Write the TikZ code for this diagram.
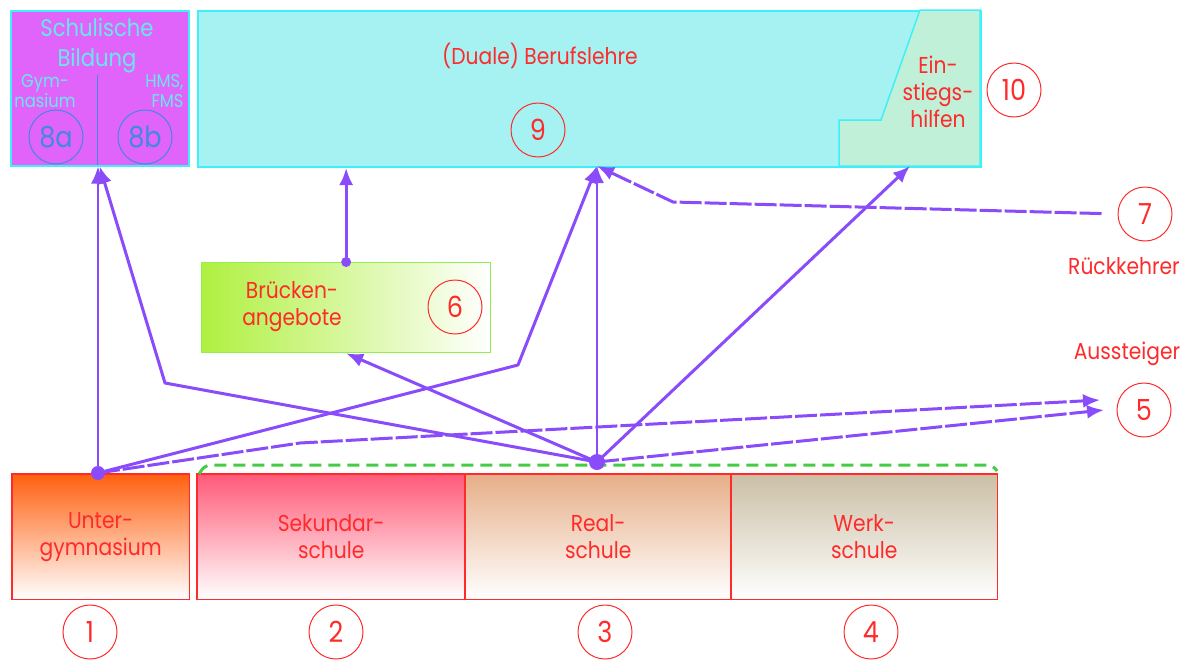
\documentclass[tikz,border=0pt]{standalone}
\usepackage{fontspec}
\setmainfont{Poppins}[FakeStretch=0.88]
\usetikzlibrary{arrows.meta}
\definecolor{rot}{HTML}{FF2A2A}
\definecolor{lila}{HTML}{8A4BFA}
\definecolor{tuerkis}{HTML}{40F0F8}
\definecolor{tuerkistext}{HTML}{66E8F0}
\definecolor{hellblau}{HTML}{A6F2F2}
\definecolor{mint}{HTML}{C0F0D8}
\definecolor{violett}{HTML}{E064FA}
\definecolor{blau}{HTML}{4088E0}
\definecolor{gruen}{HTML}{44CC44}
\definecolor{limette}{HTML}{B0F040}
\definecolor{limrand}{HTML}{90F050}
\definecolor{orangeug}{HTML}{FF6010}
\definecolor{rosa}{HTML}{FF5A78}
\definecolor{hautfarbe}{HTML}{E6AE88}
\definecolor{khaki}{HTML}{CBBFA5}
\tikzset{
  txt/.style={text=rot,align=center,font=\fontsize{23}{27}\selectfont},
  nr/.style={circle,draw=rot,line width=1pt,text=rot,minimum size=54pt,inner sep=0pt,
    font=\fontsize{29}{29}\selectfont},
  stufe/.style={anchor=north west,minimum width=#1,minimum height=125pt,inner sep=0pt,txt},
  rand/.style={draw=rot,line width=1.8pt},
  pfeil/.style={lila,line width=3pt,line join=round,-{Latex[length=17pt,width=14pt]}},
  duenn/.style={pfeil,line width=2pt},
  aus/.style={pfeil,dash pattern=on 22pt off 3pt},
}
\begin{document}
\begin{tikzpicture}[x=1pt,y=-1pt]
\useasboundingbox (0,0) rectangle (1192,659);
% obere Stufe
\node[draw=tuerkis,line width=1.5pt,fill=violett,anchor=north west,minimum width=178pt,
  minimum height=155pt,inner sep=0pt] (schul) at (10,10) {};
\draw[blau,line width=1pt] (97,75) -- (97,165);
\node[text=tuerkistext,align=center,font=\fontsize{24}{30}\selectfont] (schultxt) at (97,46) {Schulische\\Bildung};
\node[text=tuerkistext,align=center,font=\fontsize{18.5}{20}\selectfont] (gym) at (45,91) {Gym-\\nasium};
\node[text=tuerkistext,align=right,anchor=east,font=\fontsize{18.5}{20}\selectfont] (hms) at (187,91) {HMS,\\FMS};
\node[nr,draw=blau,text=blau] (n8a) at (56,137) {8a};
\node[nr,draw=blau,text=blau] (n8b) at (145,137) {8b};
\node[draw=tuerkis,line width=2pt,fill=hellblau,anchor=north west,minimum width=783pt,
  minimum height=156pt,inner sep=0pt] (duale) at (197,10) {};
\draw[tuerkis,fill=mint,line width=1.5pt] (920,10) -- (881,120) -- (839,120) -- (839,166)
  -- (980,166) -- (980,10) -- cycle;
\node[txt] (dualetxt) at (540,56) {(Duale) Berufslehre};
\node[nr] (n9) at (538,130) {9};
\node[txt,align=center] (einsttxt) at (938,92) {Ein-\\stiegs-\\hilfen};
\node[nr] (n10) at (1014,90) {10};
\coordinate (einst) at (910,166);
\coordinate (ziel9) at (597,166);
% Brueckenangebote
\node[draw=limrand,line width=1.3pt,left color=limette,right color=white,anchor=north west,
  minimum width=289pt,minimum height=90pt,inner sep=0pt] (bruecke) at (201,262) {};
\node[txt] (bruecketxt) at (292,307) {Brücken-\\angebote};
\node[nr] (n6) at (455,307) {6};
% untere Stufe
\node[stufe=177pt,top color=orangeug,bottom color=white] (ug) at (12,474) {Unter-\\gymnasium};
\node[stufe=268pt,top color=rosa,bottom color=white] (sek) at (197,474) {Sekundar-\\schule};
\node[stufe=266pt,top color=hautfarbe,bottom color=white] (real) at (465,474) {Real-\\schule};
\node[stufe=266pt,top color=khaki,bottom color=white] (werk) at (731,474) {Werk-\\schule};
\draw[rand] (ug.north west) rectangle (ug.south east);
\draw[rand] (sek.north west) rectangle (werk.south east);
\draw[rand] (real.north west) -- (real.south west) (werk.north west) -- (werk.south west);
\node[nr] (n1) at (90,632) {1};
\node[nr] (n2) at (336,632) {2};
\node[nr] (n3) at (605,632) {3};
\node[nr] (n4) at (871,632) {4};
\draw[gruen,line width=3pt,dash pattern=on 12pt off 7pt,rounded corners=6pt]
  (199,474) -- (205,465) -- (993,465) -- (997,471);
% rechts
\node[nr] (n7) at (1145,214) {7};
\node[txt] (rueck) at (1124,266) {Rückkehrer};
\node[txt] (aus) at (1127,354) {Aussteiger};
\node[nr] (n5) at (1144,410) {5};
\coordinate (ziel5a) at (1100,400);
\coordinate (ziel5b) at (1104,410);
% Wege
\coordinate (hub1) at (98,473);
\coordinate (hub3) at (597,462);
\draw[duenn] (hub1) -- (hub1 |- schul.south);
\draw[pfeil] (hub1) -- (518,365) -- (ziel9);
\draw[aus] (hub1) -- (300,443) -- (ziel5a);
\draw[pfeil] (hub3) -- (165,383) -- (schul.south);
\draw[pfeil] (hub3) -- (bruecke.south);
\draw[duenn] (hub3) -- (ziel9);
\draw[pfeil] (hub3) -- (einst);
\draw[aus] (hub3) -- (ziel5b);
\draw[aus,shorten <=16pt] (n7.west) -- (673,202) -- (ziel9);
\draw[pfeil] (bruecke.north) -- (bruecke.north |- duale.south);
\fill[lila] (hub1) circle[radius=7pt];
\fill[lila] (hub3) circle[radius=8pt];
\fill[lila] (bruecke.north) circle[radius=5pt];
\end{tikzpicture}
\end{document}
